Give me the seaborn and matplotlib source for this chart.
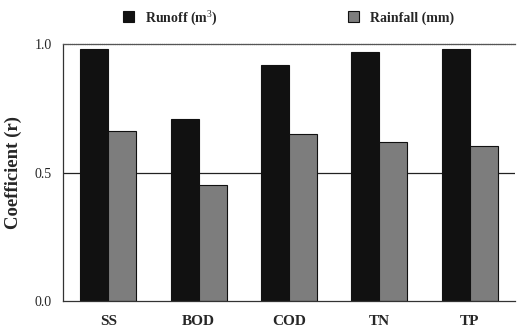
import matplotlib
matplotlib.use("Agg")
import matplotlib.pyplot as plt
import seaborn as sns
import pandas as pd

categories = ["SS", "BOD", "COD", "TN", "TP"]
runoff = [0.98, 0.71, 0.92, 0.97, 0.98]
rainfall = [0.66, 0.45, 0.65, 0.62, 0.605]
series = ["Runoff (m$^3$)", "Rainfall (mm)"]
yticks = [0.0, 0.5, 1.0]

df = pd.DataFrame({
    "cat": categories * 2,
    "val": runoff + rainfall,
    "series": [series[0]] * len(categories) + [series[1]] * len(categories),
})

sns.set_style("white")
plt.rcParams["font.family"] = ["Liberation Serif", "DejaVu Serif"]
plt.rcParams["mathtext.fontset"] = "custom"
plt.rcParams["mathtext.rm"] = "Liberation Serif"
plt.rcParams["mathtext.bf"] = "Liberation Serif:bold"

fig = plt.figure(figsize=(5.18, 3.32), dpi=100)
ax = fig.add_axes([0.1216, 0.0934, 0.8726, 0.774])

ax.axhline(0.5, color="#222222", lw=0.9, zorder=0)
sns.barplot(data=df, x="cat", y="val", hue="series", order=categories,
            hue_order=series, palette=["#111111", "#7d7d7d"], width=0.62,
            edgecolor="#111111", linewidth=0.8, saturation=1, ax=ax, zorder=2)

ax.set_xlim(-0.5, 4.5)
ax.set_ylim(0, 1.0)
ax.set_yticks(yticks)
ax.set_yticklabels([f"{t:.1f}" for t in yticks], fontsize=10)
ax.set_xticks(range(len(categories)))
ax.set_xticklabels(categories, fontsize=11, fontweight="bold")
ax.set_xticks([0.5, 1.5, 2.5, 3.5], minor=True)
ax.tick_params(axis="x", which="major", length=0, pad=10)
ax.tick_params(axis="x", which="minor", direction="in", length=5, width=0.9, color="#333333")
ax.tick_params(axis="y", which="major", length=0, pad=8)
ax.set_xlabel("")
ax.set_ylabel("Coefficient (r)", fontsize=13.5, fontweight="bold", labelpad=9)

for s in ["left", "bottom"]:
    ax.spines[s].set_visible(True)
    ax.spines[s].set_color("#333333")
    ax.spines[s].set_linewidth(0.9)
ax.spines["top"].set_visible(True)
ax.spines["top"].set_color("#555555")
ax.spines["top"].set_linestyle((0, (1, 0.5)))
ax.spines["top"].set_linewidth(0.9)
ax.spines["right"].set_visible(False)

handles, labels = ax.get_legend_handles_labels()
ax.get_legend().remove()
fig.legend(handles, labels, loc="center", bbox_to_anchor=(0.557, 0.948), ncol=2,
           frameon=False, prop={"family": "Liberation Serif", "weight": "bold", "size": 10},
           handlelength=0.8, handleheight=0.8, columnspacing=9.4, handletextpad=0.8)

fig.savefig("out.png", dpi=100)
